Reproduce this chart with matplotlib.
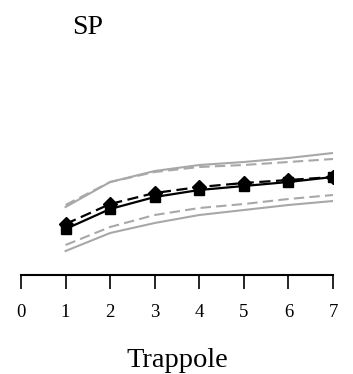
import matplotlib
matplotlib.use("Agg")
import matplotlib.pyplot as plt

x = [1, 2, 3, 4, 5, 6, 7]
obs_solid = [4.6, 6.6, 7.8, 8.5, 8.9, 9.3, 9.8]
obs_dashed = [5.1, 7.1, 8.2, 8.8, 9.2, 9.5, 9.8]
upper_solid = [6.8, 9.3, 10.4, 11.0, 11.3, 11.7, 12.2]
upper_dashed = [7.0, 9.3, 10.3, 10.8, 11.0, 11.3, 11.6]
lower_dashed = [3.0, 4.8, 6.0, 6.7, 7.1, 7.6, 8.0]
lower_solid = [2.4, 4.2, 5.2, 6.0, 6.5, 7.0, 7.4]
xticks = [0, 1, 2, 3, 4, 5, 6, 7]

plt.rcParams['font.family'] = ['Liberation Serif', 'DejaVu Serif']
fig = plt.figure(figsize=(3.53, 3.74), dpi=100)
ax = fig.add_axes([21/353, 1-275/374, 312/353, 225/374])

gray = '#a8a8a8'
dash = (0, (5, 2.5))
ax.plot(x, upper_solid, color=gray, lw=1.5, ls='-')
ax.plot(x, lower_solid, color=gray, lw=1.5, ls='-')
ax.plot(x, upper_dashed, color=gray, lw=1.5, ls=dash)
ax.plot(x, lower_dashed, color=gray, lw=1.5, ls=dash)
ax.plot(x, obs_dashed, color='black', lw=1.6, ls=dash, marker='D', ms=7)
ax.plot(x, obs_solid, color='black', lw=1.6, ls='-', marker='s', ms=7.5)

ax.set_xlim(0, 7)
ax.set_ylim(0, 22.5)
ax.set_xticks(xticks)
ax.set_xticklabels([str(t) for t in xticks])
ax.set_yticks([])
for s in ['top', 'right', 'left']:
    ax.spines[s].set_visible(False)
ax.spines['bottom'].set_linewidth(1.5)
ax.spines['bottom'].set_position(('data', 0))
ax.tick_params(axis='x', direction='out', length=10, width=1.2, pad=11, labelsize=13.5)
ax.set_xlabel('Trappole', fontsize=20.5, labelpad=19)
ax.patch.set_visible(False)

fig.text(88/353, 1-27/374, 'SP', fontsize=20, ha='center', va='center')

fig.savefig('out.png', dpi=100)
